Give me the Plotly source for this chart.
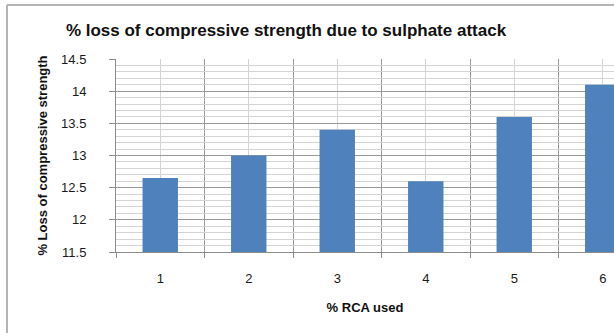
import plotly.graph_objects as go

# % RCA used categories and the measured strength loss for each
rca_used = [1, 2, 3, 4, 5, 6]
strength_loss = [12.65, 13.0, 13.4, 12.6, 13.6, 14.1]
tick_labels = ["1", "2", "3", "4", "5", "6"]

W, H = 614, 333
L, R, T, B = 116, 0, 59, 81
FONT = "Liberation Sans"

fig = go.Figure(
    go.Bar(
        x=rca_used,
        y=strength_loss,
        width=0.4,
        marker=dict(color="#4f81bd", line=dict(width=0)),
    )
)

# outer chart frame (left and top edges)
pw = W - L - R
ph = H - T - B
fx0 = (7 - L) / pw
fy1 = (ph + T - 5) / ph
fy0 = (ph + T - H - 5) / ph
fig.add_shape(type="line", xref="paper", yref="paper", x0=fx0, x1=fx0, y0=fy0, y1=fy1,
              line=dict(color="#b4b4b4", width=2))
fig.add_shape(type="line", xref="paper", yref="paper", x0=fx0, x1=(W - L + 10) / pw, y0=fy1, y1=fy1,
              line=dict(color="#b4b4b4", width=2))

fig.update_layout(
    width=W,
    height=H,
    margin=dict(l=L, r=R, t=T, b=B, pad=0),
    paper_bgcolor="white",
    plot_bgcolor="white",
    showlegend=False,
    font=dict(family=FONT, color="#1a1a1a"),
    title=dict(
        text="<b>% loss of compressive strength due to sulphate attack</b>",
        x=286 / W, xanchor="center",
        y=1 - 30 / H, yanchor="middle",
        font=dict(size=17, family=FONT, color="#111111"),
    ),
    xaxis=dict(
        range=[0.5, 0.5 + pw / 88.5],
        tickvals=rca_used,
        ticktext=tick_labels,
        ticks="",
        showgrid=True,
        gridcolor="#d4d4d4",
        gridwidth=1,
        showline=True,
        linecolor="#8c8c8c",
        linewidth=1,
        zeroline=False,
        tickfont=dict(size=13, color="#1a1a1a"),
        ticklabelstandoff=14,
        minor=dict(
            tick0=0.5, dtick=1,
            ticks="outside", ticklen=5, tickcolor="#8c8c8c",
            showgrid=True, gridcolor="#9a9a9a", gridwidth=1,
        ),
        title=dict(text="<b>% RCA used</b>", font=dict(size=13, color="#111111"), standoff=18),
    ),
    yaxis=dict(
        range=[11.5, 14.5],
        dtick=0.5,
        tick0=11.5,
        ticks="outside",
        ticklen=6,
        tickcolor="#8c8c8c",
        showgrid=True,
        gridcolor="#9a9a9a",
        gridwidth=1,
        showline=True,
        linecolor="#8c8c8c",
        linewidth=1,
        zeroline=False,
        tickfont=dict(size=13, color="#1a1a1a"),
        ticklabelstandoff=20,
        minor=dict(dtick=0.1, showgrid=True, gridcolor="#d4d4d4", gridwidth=1),
        title=dict(text="<b>% Loss of compressive strength</b>", font=dict(size=13, color="#111111"),
                   standoff=10),
    ),
)

fig.write_html("out.html")
